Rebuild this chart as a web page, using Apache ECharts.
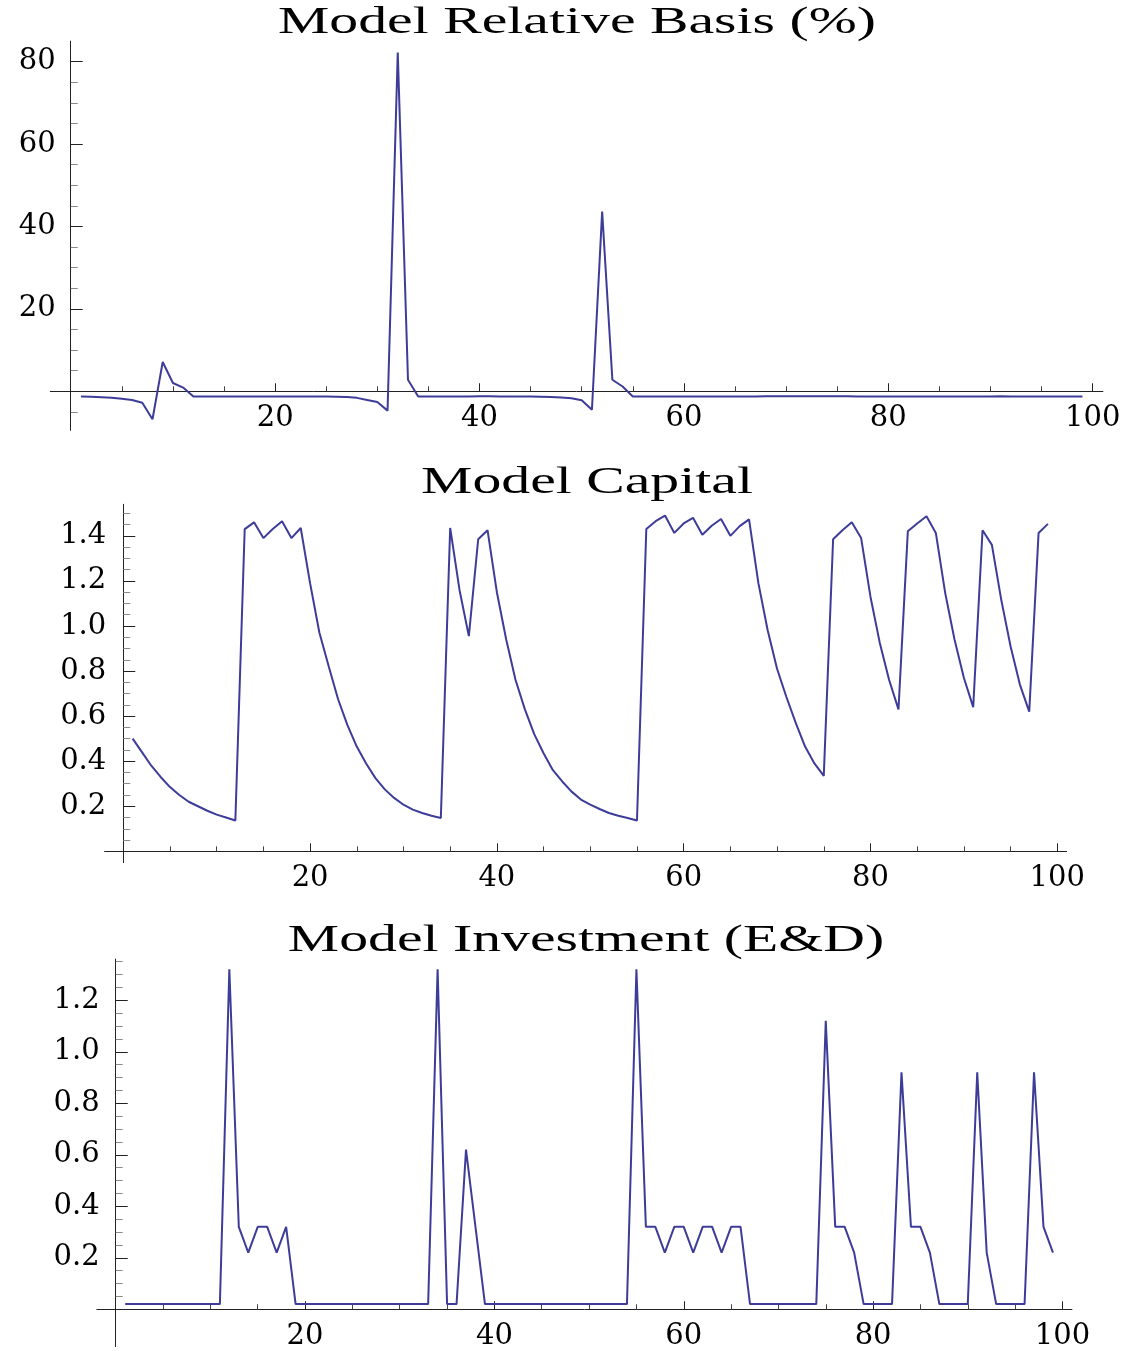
<!DOCTYPE html>
<html>
<head>
<meta charset="utf-8">
<script src="https://cdn.jsdelivr.net/npm/echarts@6/dist/echarts.min.js"></script>
<style>
html,body{margin:0;padding:0;background:#ffffff;}
#chart{width:1141px;height:1351px;}
</style>
</head>
<body>
<div id="chart"></div>
<script>
// ---------- data (x = 1..99) ----------
const basis = [
  -1.3, -1.35, -1.45, -1.6, -1.8, -2.1, -2.8, -6.8, 7.1, 2.0,
  0.9, -1.3, -1.3, -1.3, -1.3, -1.3, -1.3, -1.3, -1.3, -1.3,
  -1.28, -1.27, -1.27, -1.28, -1.3, -1.32, -1.4, -1.6, -2.1, -2.6,
  -4.7, 82.2, 2.8, -1.26, -1.26, -1.26, -1.25, -1.25, -1.25, -1.24,
  -1.24, -1.25, -1.26, -1.28, -1.3, -1.35, -1.42, -1.52, -1.7, -2.2,
  -4.5, 43.6, 2.8, 1.15, -1.26, -1.26, -1.26, -1.26, -1.26, -1.26,
  -1.26, -1.26, -1.26, -1.26, -1.25, -1.25, -1.25, -1.24, -1.24, -1.23,
  -1.22, -1.2, -1.2, -1.2, -1.22, -1.24, -1.26, -1.26, -1.26, -1.26,
  -1.26, -1.26, -1.26, -1.28, -1.28, -1.28, -1.28, -1.27, -1.26, -1.25,
  -1.24, -1.26, -1.26, -1.26, -1.25, -1.25, -1.26, -1.28, -1.28
];
const capital = [
  0.50, 0.44, 0.38, 0.33, 0.285, 0.25, 0.22, 0.20, 0.18, 0.163,
  0.15, 0.137, 1.43, 1.46, 1.39, 1.43, 1.465, 1.39, 1.435, 1.19,
  0.97, 0.82, 0.675, 0.56, 0.465, 0.39, 0.325, 0.275, 0.237, 0.207,
  0.185, 0.17, 0.158, 0.148, 1.435, 1.16, 0.955, 1.385, 1.425, 1.15,
  0.94, 0.76, 0.63, 0.52, 0.435, 0.36, 0.31, 0.265, 0.23, 0.207,
  0.188, 0.17, 0.158, 0.148, 0.137, 1.43, 1.465, 1.49, 1.413, 1.455,
  1.48, 1.405, 1.445, 1.475, 1.40, 1.443, 1.473, 1.19, 0.98, 0.81,
  0.685, 0.57, 0.465, 0.39, 0.335, 1.385, 1.425, 1.46, 1.39, 1.13,
  0.925, 0.76, 0.63, 1.42, 1.455, 1.487, 1.413, 1.147, 0.94, 0.77,
  0.64, 1.425, 1.36, 1.117, 0.91, 0.74, 0.62, 1.413, 1.453
];
const investment = [
  0.02, 0.02, 0.02, 0.02, 0.02, 0.02, 0.02, 0.02, 0.02, 0.02,
  0.02, 1.32, 0.32, 0.22, 0.32, 0.32, 0.22, 0.32, 0.02, 0.02,
  0.02, 0.02, 0.02, 0.02, 0.02, 0.02, 0.02, 0.02, 0.02, 0.02,
  0.02, 0.02, 0.02, 1.32, 0.02, 0.02, 0.62, 0.32, 0.02, 0.02,
  0.02, 0.02, 0.02, 0.02, 0.02, 0.02, 0.02, 0.02, 0.02, 0.02,
  0.02, 0.02, 0.02, 0.02, 1.32, 0.32, 0.32, 0.22, 0.32, 0.32,
  0.22, 0.32, 0.32, 0.22, 0.32, 0.32, 0.02, 0.02, 0.02, 0.02,
  0.02, 0.02, 0.02, 0.02, 1.12, 0.32, 0.32, 0.22, 0.02, 0.02,
  0.02, 0.02, 0.92, 0.32, 0.32, 0.22, 0.02, 0.02, 0.02, 0.02,
  0.92, 0.22, 0.02, 0.02, 0.02, 0.02, 0.92, 0.32, 0.22
];

const titles = ['Model Relative Basis (%)', 'Model Capital', 'Model Investment (E&D)'];

const xLabelTicks = [20, 40, 60, 80, 100];
const xMinorTicks = [5, 10, 15, 25, 30, 35, 45, 50, 55, 65, 70, 75, 85, 90, 95];

const basisYLabels = [20, 40, 60, 80];
const basisYMinor = [-5, 5, 10, 15, 25, 30, 35, 45, 50, 55, 65, 70, 75];

const capitalYLabels = [0.2, 0.4, 0.6, 0.8, 1.0, 1.2, 1.4];
const capitalYMinor = [0.05, 0.1, 0.15, 0.25, 0.3, 0.35, 0.45, 0.5, 0.55, 0.65, 0.7, 0.75,
  0.85, 0.9, 0.95, 1.05, 1.1, 1.15, 1.25, 1.3, 1.35, 1.45, 1.5];

const investYLabels = [0.2, 0.4, 0.6, 0.8, 1.0, 1.2];
const investYMinor = [0.05, 0.1, 0.15, 0.25, 0.3, 0.35, 0.45, 0.5, 0.55, 0.65, 0.7, 0.75,
  0.85, 0.9, 0.95, 1.05, 1.1, 1.15, 1.25, 1.3, 1.35];

// ---------- layout ----------
const LINE_COLOR = '#3d3d99';
const AXIS_COLOR = '#222';
const MINOR_COLOR = '#8a8a8a';
const LABEL_FONT = 'DejaVu Serif';
const LABEL_SIZE = 29;
const TITLE_FONT = 'Liberation Serif';

const panels = [
  { values: basis, title: titles[0], left: 50.3, top: 41.1, width: 1052.6, height: 389.3,
    xMin: -2, xMax: 101, yMin: -9.5, yMax: 85, yLabels: basisYLabels, yMinor: basisYMinor,
    fmt: v => String(v), titleX: 577, titleY: 23.5, yMargin: 15 },
  { values: capital, title: titles[1], left: 104.6, top: 504.3, width: 962, height: 358.3,
    xMin: -2, xMax: 101, yMin: -0.05, yMax: 1.54, yLabels: capitalYLabels, yMinor: capitalYMinor,
    fmt: v => Number(v).toFixed(1), titleX: 587, titleY: 483, yMargin: 17 },
  { values: investment, title: titles[2], left: 96.8, top: 959.1, width: 975.1, height: 387.5,
    xMin: -2, xMax: 101, yMin: -0.145, yMax: 1.36, yLabels: investYLabels, yMinor: investYMinor,
    fmt: v => Number(v).toFixed(1), titleX: 586, titleY: 941, yMargin: 16 }
];

const grid = [], xAxis = [], yAxis = [], series = [], graphic = [];

panels.forEach((p, i) => {
  grid.push({ left: p.left, top: p.top, width: p.width, height: p.height,
    containLabel: false, outerBoundsMode: 'none' });

  // shift the axes from the grid edges onto the zero lines (Mathematica-style crossing axes)
  const xOff = -(0 - p.yMin) / (p.yMax - p.yMin) * p.height;
  const yOff = -(0 - p.xMin) / (p.xMax - p.xMin) * p.width;

  // major x axis (line, labels, long ticks)
  xAxis.push({
    type: 'value', gridIndex: i, min: p.xMin, max: p.xMax, position: 'bottom', offset: xOff,
    axisLine: { show: true, onZero: false, lineStyle: { color: AXIS_COLOR, width: 1 } },
    axisTick: { show: true, inside: true, length: 8, customValues: xLabelTicks,
      lineStyle: { color: AXIS_COLOR, width: 1 } },
    axisLabel: { show: true, customValues: xLabelTicks, margin: 13,
      fontFamily: LABEL_FONT, fontSize: LABEL_SIZE, color: '#000' },
    splitLine: { show: false }
  });
  // minor x ticks
  xAxis.push({
    type: 'value', gridIndex: i, min: p.xMin, max: p.xMax, position: 'bottom', offset: xOff,
    axisLine: { show: false, onZero: false },
    axisTick: { show: true, inside: true, length: 5, customValues: xMinorTicks,
      lineStyle: { color: '#444', width: 1 } },
    axisLabel: { show: false },
    splitLine: { show: false }
  });
  // major y axis
  yAxis.push({
    type: 'value', gridIndex: i, min: p.yMin, max: p.yMax, position: 'left', offset: yOff,
    axisLine: { show: true, onZero: false, lineStyle: { color: AXIS_COLOR, width: 1 } },
    axisTick: { show: true, inside: true, length: 12, customValues: p.yLabels,
      lineStyle: { color: AXIS_COLOR, width: 1 } },
    axisLabel: { show: true, customValues: p.yLabels, margin: p.yMargin, formatter: p.fmt,
      fontFamily: LABEL_FONT, fontSize: LABEL_SIZE, color: '#000' },
    splitLine: { show: false }
  });
  // minor y ticks
  yAxis.push({
    type: 'value', gridIndex: i, min: p.yMin, max: p.yMax, position: 'left', offset: yOff,
    axisLine: { show: false, onZero: false },
    axisTick: { show: true, inside: true, length: 7, customValues: p.yMinor,
      lineStyle: { color: MINOR_COLOR, width: 1 } },
    axisLabel: { show: false },
    splitLine: { show: false }
  });

  series.push({
    type: 'line', name: p.title, xAxisIndex: 2 * i, yAxisIndex: 2 * i,
    data: p.values.map((v, k) => [k + 1, v]),
    showSymbol: false, symbol: 'none', smooth: false, clip: false,
    lineStyle: { color: LINE_COLOR, width: 2 },
    emphasis: { disabled: true }
  });

  graphic.push({
    type: 'text', x: p.titleX, y: p.titleY, scaleX: 1.56, scaleY: 1,
    silent: true,
    style: { text: p.title, fontFamily: TITLE_FONT, fontSize: 37, fill: '#000',
      textAlign: 'center', textVerticalAlign: 'middle' }
  });
});

const chart = echarts.init(document.getElementById('chart'), null, { renderer: 'canvas' });
chart.setOption({
  animation: false,
  backgroundColor: '#ffffff',
  grid, xAxis, yAxis, series, graphic
});
</script>
</body>
</html>
